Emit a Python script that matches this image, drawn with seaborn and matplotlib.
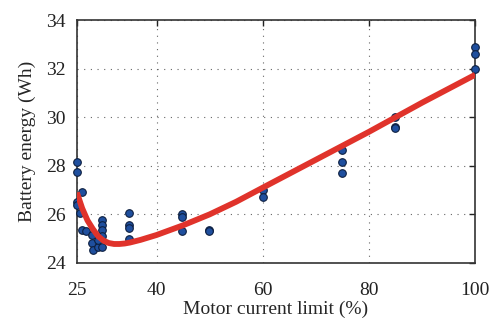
import numpy as np
import pandas as pd
import seaborn as sns
import matplotlib.pyplot as plt

# measured points
meas_x = [25, 25, 25, 25, 25.6, 25.9,
          26.0, 26.8, 27.8, 27.8, 28.0, 29.0, 29.0,
          29.8, 29.8, 29.8, 29.8, 29.8,
          34.85, 34.85, 34.85, 34.85,
          44.85, 44.85, 44.85, 49.9, 49.9,
          60, 60, 74.9, 74.9, 74.9,
          84.9, 84.9, 84.9, 100, 100, 100]
meas_y = [28.17, 27.76, 26.52, 26.4, 26.06, 26.93,
          25.36, 25.3, 25.15, 24.82, 24.53, 24.67, 24.95,
          25.77, 25.56, 25.36, 25.11, 24.67,
          26.04, 25.56, 25.43, 24.97,
          26.02, 25.9, 25.32, 25.36, 25.3,
          27.0, 26.7, 28.65, 28.17, 27.72,
          30.0, 29.6, 29.55, 32.9, 32.6, 32.0]

# fitted curve
fit_x = [25, 26, 27, 28, 29, 30, 31, 32, 33, 34, 35, 37, 40, 45, 50, 55, 60, 70, 80, 90, 100]
fit_y = [26.9, 26.25, 25.75, 25.4, 25.1, 24.92, 24.82, 24.78, 24.78, 24.8, 24.84, 24.95,
         25.15, 25.55, 26.0, 26.52, 27.1, 28.25, 29.4, 30.6, 31.75]

df_meas = pd.DataFrame({'x': meas_x, 'y': meas_y})
df_fit = pd.DataFrame({'x': fit_x, 'y': fit_y})

sns.set_style("white")
plt.rcParams['font.family'] = ['Liberation Serif', 'DejaVu Serif']

fig = plt.figure(figsize=(4.96, 3.25), dpi=100)
ax = fig.add_axes([0.155, 0.191, 0.803, 0.747])

sns.scatterplot(data=df_meas, x='x', y='y', ax=ax, s=30, color='#1f4f9e',
                edgecolor='#0d1f40', linewidth=0.8, zorder=3, clip_on=False)
sns.lineplot(data=df_fit, x='x', y='y', ax=ax, color='#e0332b', linewidth=4.2,
             zorder=4, solid_capstyle='butt')

ax.set_xlim(25, 100)
ax.set_ylim(24, 34)
ax.set_xticks([25, 40, 60, 80, 100])
ax.set_yticks([24, 26, 28, 30, 32, 34])
ax.grid(True, linestyle=(0, (1, 5)), color='#666666', linewidth=0.8)
ax.tick_params(direction='in', top=True, right=True, length=4, width=1,
               labelsize=14, colors='#222222')
ax.tick_params(axis='x', pad=14)
ax.tick_params(axis='y', pad=8)
for s in ax.spines.values():
    s.set_color('#333333')
    s.set_linewidth(1.2)
ax.set_xlabel('Motor current limit (%)', fontsize=14, labelpad=1)
ax.set_ylabel('Battery energy (Wh)', fontsize=14, labelpad=7)

fig.savefig('out.png', dpi=100)
